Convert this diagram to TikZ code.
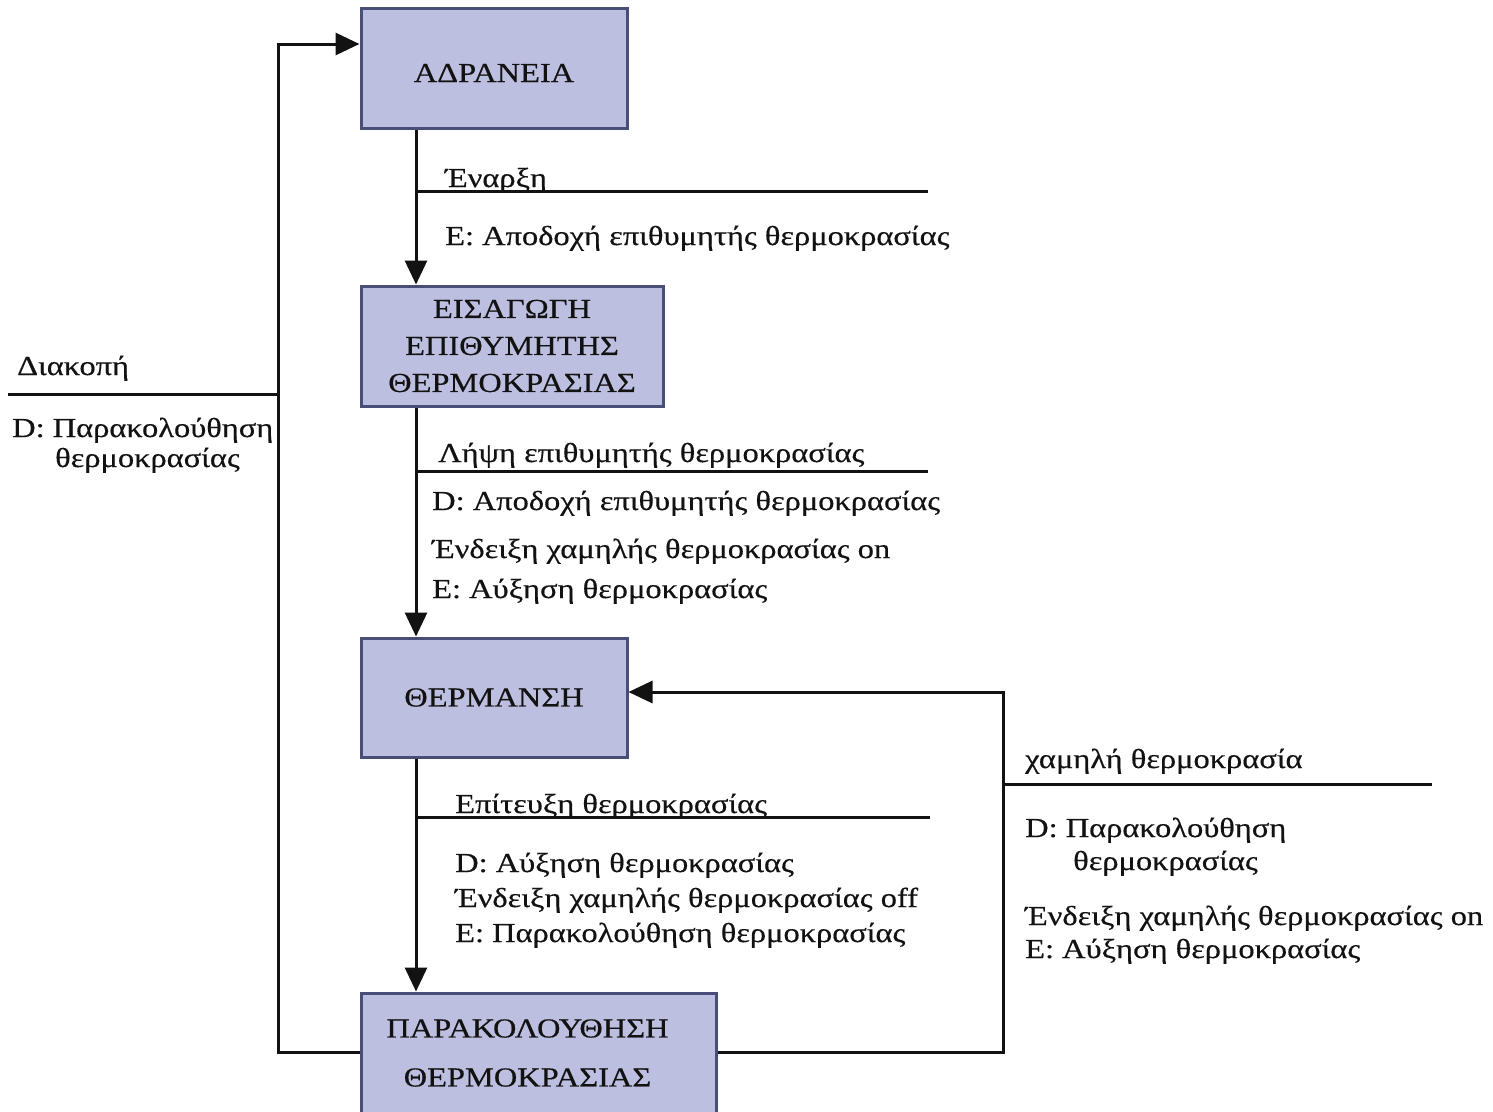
\documentclass[tikz,border=0pt]{standalone}
\usepackage{fontspec}
\setmainfont{Liberation Serif}[FakeStretch=1.18,FakeBold=0.45]
\usetikzlibrary{arrows.meta}
\definecolor{boxfill}{RGB}{189,191,224}
\definecolor{boxline}{RGB}{72,78,120}
\definecolor{ink}{RGB}{18,18,18}
\begin{document}
\begin{tikzpicture}[x=1pt,y=-1pt,
  state/.style={draw=boxline, fill=boxfill, line width=3pt, inner sep=0pt,
    align=center, text=ink, font=\fontsize{27.5}{37}\selectfont},
  lbl/.style={anchor=base west, inner sep=0pt, text=ink,
    font=\fontsize{27.5}{35}\selectfont},
  wire/.style={line width=3pt, draw=ink},
  flow/.style={wire, -{Triangle[length=24pt,width=22pt]}}]

\useasboundingbox (0,0) rectangle (1493,1111);
\fill[white] (0,0) rectangle (1493,1111);

% states
\node[state, minimum width=266pt, minimum height=120pt, text height=28pt] (ad) at (494,68) {ΑΔΡΑΝΕΙΑ};
\node[state, minimum width=302pt, minimum height=120pt] (ei) at (512,346)
  {ΕΙΣΑΓΩΓΗ\\ΕΠΙΘΥΜΗΤΗΣ\\ΘΕΡΜΟΚΡΑΣΙΑΣ};
\node[state, minimum width=266pt, minimum height=119pt] (th) at (494,697.5) {ΘΕΡΜΑΝΣΗ};
\node[state, minimum width=355pt, minimum height=120pt] (pk) at (538.5,1053)
  {ΠΑΡΑΚΟΛΟΥΘΗΣΗ\hspace*{22pt}\\[12pt]ΘΕΡΜΟΚΡΑΣΙΑΣ\hspace*{22pt}};

% routing points
\coordinate (spine) at (416,0);
\coordinate (lb) at (278,1052);
\coordinate (lt) at (278,44);
\coordinate (rb) at (1003,1052);
\coordinate (rt) at (1003,692);

% transitions down the main column
\draw[flow] (ad.south -| spine) -- (ei.north -| spine);
\draw[flow] (ei.south -| spine) -- (th.north -| spine);
\draw[flow] (th.south -| spine) -- (pk.north -| spine);

% interrupt loop back to idle
\draw[flow] (pk.west |- lb) -- (lb) -- (lt) -- (ad.west |- lt);
% low temperature loop back to heating
\draw[flow] (pk.east |- rb) -- (rb) -- (rt) -- (th.east |- rt);

% event separators
\coordinate (s1a) at (416,191);  \coordinate (s1b) at (928,191);
\coordinate (s2a) at (416,471);  \coordinate (s2b) at (928,471);
\coordinate (s3a) at (416,817);  \coordinate (s3b) at (930,817);
\coordinate (s4a) at (1003,784); \coordinate (s4b) at (1432,784);
\coordinate (s5a) at (8,394);    \coordinate (s5b) at (278,394);
\draw[wire] (s1a) -- (s1b);
\draw[wire] (s2a) -- (s2b);
\draw[wire] (s3a) -- (s3b);
\draw[wire] (s4a) -- (s4b);
\draw[wire] (s5a) -- (s5b);

% labels: idle -> input
\node[lbl] (a1) at (445,187) {Έναρξη};
\node[lbl] (a2) at (445,245) {E: Αποδοχή επιθυμητής θερμοκρασίας};

% labels: interrupt
\node[lbl] (b1) at (17,375) {Διακοπή};
\node[lbl] (b2) at (12,437) {D: Παρακολούθηση};
\node[lbl] (b3) at (55,467) {θερμοκρασίας};

% labels: input -> heating
\node[lbl] (c1) at (438,462) {Λήψη επιθυμητής θερμοκρασίας};
\node[lbl] (c2) at (432,510) {D: Αποδοχή επιθυμητής θερμοκρασίας};
\node[lbl] (c3) at (432,558) {Ένδειξη χαμηλής θερμοκρασίας on};
\node[lbl] (c4) at (432,598) {E: Αύξηση θερμοκρασίας};

% labels: heating -> monitoring
\node[lbl] (d1) at (455,813) {Επίτευξη θερμοκρασίας};
\node[lbl] (d2) at (455,872) {D: Αύξηση θερμοκρασίας};
\node[lbl] (d3) at (455,907) {Ένδειξη χαμηλής θερμοκρασίας off};
\node[lbl] (d4) at (455,942) {E: Παρακολούθηση θερμοκρασίας};

% labels: monitoring -> heating
\node[lbl] (e1) at (1025,768) {χαμηλή θερμοκρασία};
\node[lbl] (e2) at (1025,837) {D: Παρακολούθηση};
\node[lbl] (e3) at (1073,870) {θερμοκρασίας};
\node[lbl] (e4) at (1025,925) {Ένδειξη χαμηλής θερμοκρασίας on};
\node[lbl] (e5) at (1025,958) {E: Αύξηση θερμοκρασίας};
\end{tikzpicture}
\end{document}
